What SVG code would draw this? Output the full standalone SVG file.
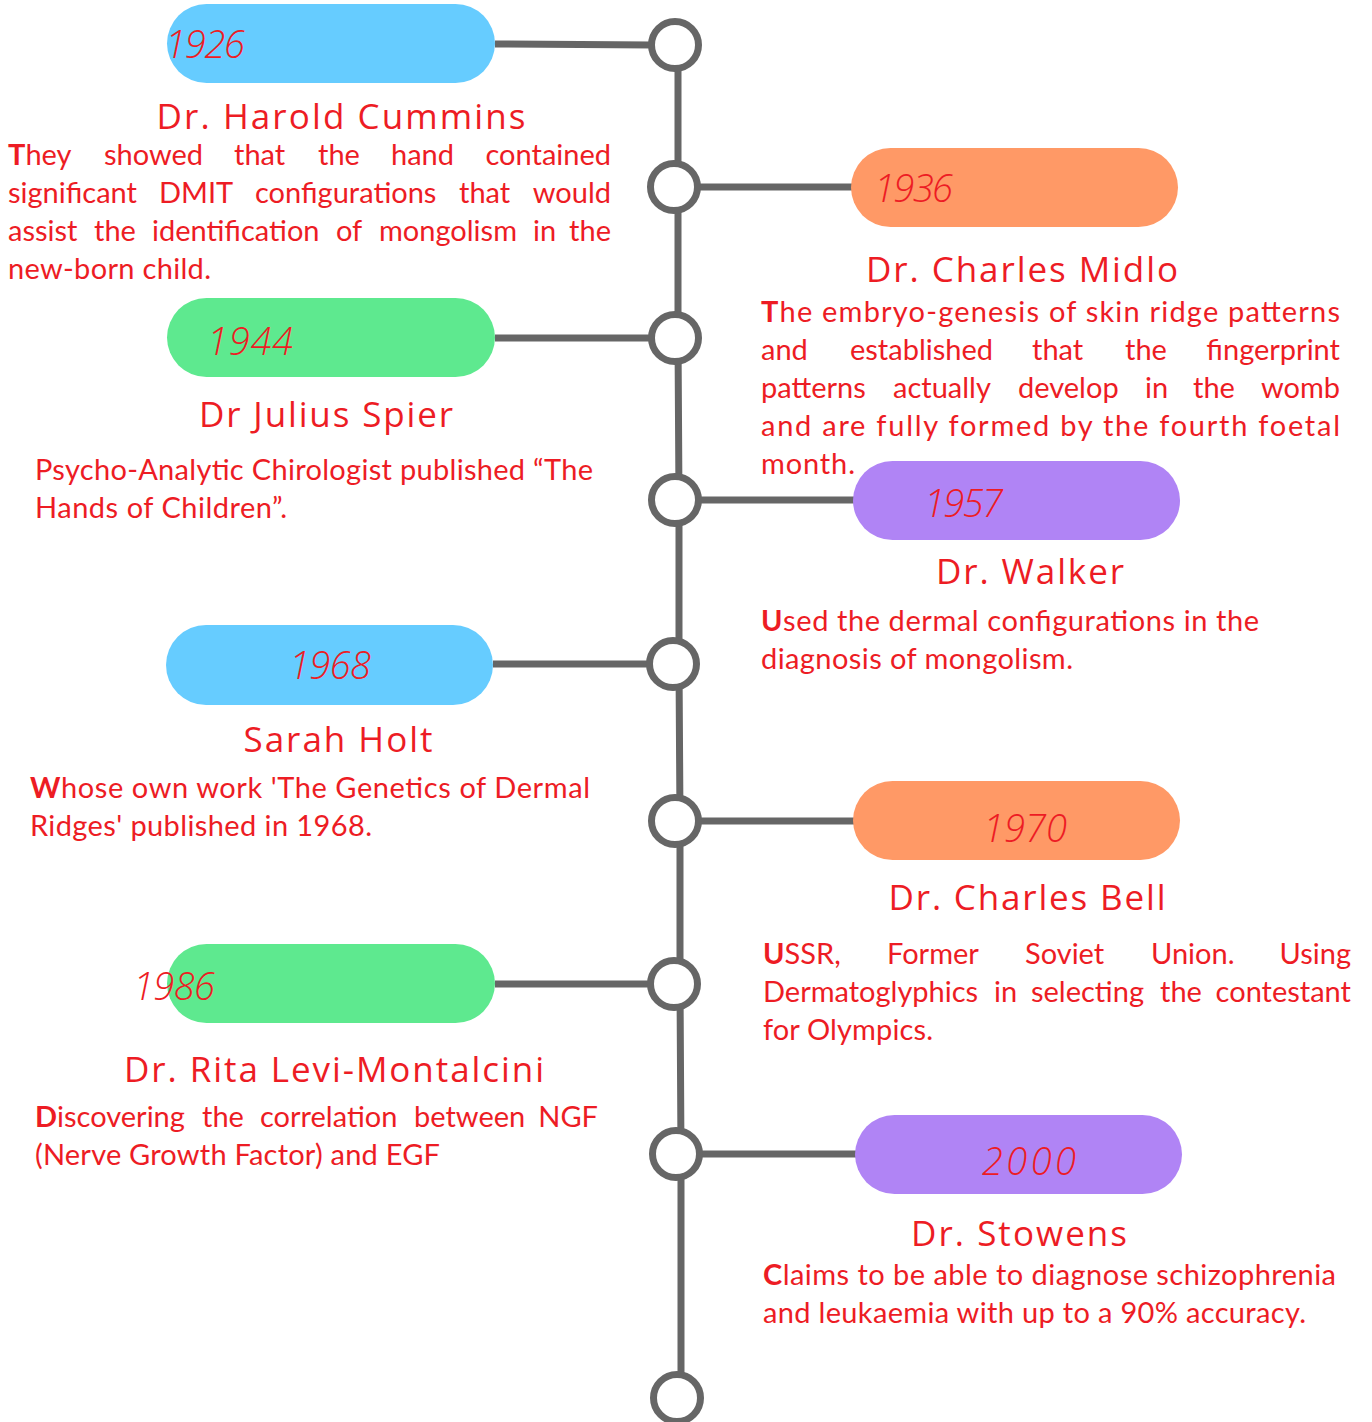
<svg xmlns="http://www.w3.org/2000/svg" width="1372" height="1422" viewBox="0 0 1372 1422">
<style>
.pill-blue{fill:#66CCFF}
.pill-orange{fill:#FF9966}
.pill-green{fill:#5EE98F}
.pill-purple{fill:#B084F5}
.line{stroke:#666666;stroke-width:7;fill:none}
.dot{fill:#FFFFFF;stroke:#666666;stroke-width:7}
.year{font-family:"Open Sans","Liberation Sans",sans-serif;font-style:italic;font-weight:300;font-size:38px;fill:#ED1C24}
.title{font-family:"Open Sans","Liberation Sans",sans-serif;font-size:35px;fill:#ED1C24;text-anchor:middle}
.body{font-family:Lato,"Liberation Sans",sans-serif;font-size:29px;fill:#ED1C24}
.b{font-weight:bold}
.e{text-anchor:end}
</style>
<rect width="1372" height="1422" fill="#FFFFFF"/>
<g id="connectors">
<polyline class="line" points="678,45 678,187 678,338 679,500 679,664 680,821 680,984 681,1154 681,1398"/>
<line class="line" x1="495" y1="44" x2="652" y2="45"/>
<line class="line" x1="698" y1="187" x2="852" y2="187"/>
<line class="line" x1="495" y1="338" x2="652" y2="338"/>
<line class="line" x1="698" y1="500" x2="854" y2="500"/>
<line class="line" x1="493" y1="664" x2="650" y2="664"/>
<line class="line" x1="698" y1="821" x2="854" y2="821"/>
<line class="line" x1="495" y1="984" x2="651" y2="984"/>
<line class="line" x1="699" y1="1154" x2="856" y2="1154"/>
</g>
<g id="dots">
<circle class="dot" cx="675" cy="45" r="23.5"/>
<circle class="dot" cx="674" cy="187" r="23.5"/>
<circle class="dot" cx="675" cy="338" r="23.5"/>
<circle class="dot" cx="675" cy="500" r="23.5"/>
<circle class="dot" cx="673" cy="664" r="23.5"/>
<circle class="dot" cx="675" cy="821" r="23.5"/>
<circle class="dot" cx="674" cy="984" r="23.5"/>
<circle class="dot" cx="676" cy="1154" r="23.5"/>
<circle class="dot" cx="677" cy="1398" r="23.5"/>
</g>
<g id="node-1926">
<rect class="pill-blue" x="167" y="4" width="328" height="79" rx="39.5"/>
<text class="year" x="165" y="58" textLength="80">1926</text>
<text class="title" x="341" y="129" textLength="369">Dr. Harold Cummins</text>
<text class="body" y="165"><tspan x="8"><tspan class="b">T</tspan>hey</tspan> <tspan x="104">showed</tspan> <tspan x="234">that</tspan> <tspan x="318">the</tspan> <tspan x="391">hand</tspan> <tspan class="e" x="611">contained</tspan></text>
<text class="body" y="203"><tspan x="8">significant</tspan> <tspan x="159">DMIT</tspan> <tspan x="255">configurations</tspan> <tspan x="459">that</tspan> <tspan class="e" x="611">would</tspan></text>
<text class="body" y="241"><tspan x="8">assist</tspan> <tspan x="94">the</tspan> <tspan x="152">identification</tspan> <tspan x="336">of</tspan> <tspan x="379">mongolism</tspan> <tspan x="533">in</tspan> <tspan class="e" x="611">the</tspan></text>
<text class="body" x="8" y="279" textLength="203">new-born child.</text>
</g>
<g id="node-1936">
<rect class="pill-orange" x="851" y="148" width="327" height="79" rx="39.5"/>
<text class="year" x="874" y="202" textLength="79">1936</text>
<text class="title" x="1022" y="282" textLength="312">Dr. Charles Midlo</text>
<text class="body" x="761" y="322" textLength="579"><tspan class="b">T</tspan>he embryo-genesis of skin ridge patterns</text>
<text class="body" y="360"><tspan x="761">and</tspan> <tspan x="850">established</tspan> <tspan x="1032">that</tspan> <tspan x="1125">the</tspan> <tspan class="e" x="1340">fingerprint</tspan></text>
<text class="body" y="398"><tspan x="761">patterns</tspan> <tspan x="893">actually</tspan> <tspan x="1018">develop</tspan> <tspan x="1145">in</tspan> <tspan x="1193">the</tspan> <tspan class="e" x="1340">womb</tspan></text>
<text class="body" x="761" y="436" textLength="579">and are fully formed by the fourth foetal</text>
<text class="body" x="761" y="474" textLength="94">month.</text>
</g>
<g id="node-1944">
<rect class="pill-green" x="167" y="298" width="328" height="79" rx="39.5"/>
<text class="year" x="207" y="355" textLength="86">1944</text>
<text class="title" x="326" y="427" textLength="254">Dr Julius Spier</text>
<text class="body" x="35" y="480" textLength="558">Psycho-Analytic Chirologist published “The</text>
<text class="body" x="35" y="518" textLength="252">Hands of Children”.</text>
</g>
<g id="node-1957">
<rect class="pill-purple" x="853" y="461" width="327" height="79" rx="39.5"/>
<text class="year" x="924" y="517" textLength="79">1957</text>
<text class="title" x="1030" y="584" textLength="188">Dr. Walker</text>
<text class="body" x="761" y="631" textLength="498"><tspan class="b">U</tspan>sed the dermal configurations in the</text>
<text class="body" x="761" y="669" textLength="312">diagnosis of mongolism.</text>
</g>
<g id="node-1968">
<rect class="pill-blue" x="166" y="625" width="327" height="80" rx="40"/>
<text class="year" x="289" y="679" textLength="82">1968</text>
<text class="title" x="338" y="752" textLength="189">Sarah Holt</text>
<text class="body" x="30" y="798" textLength="560"><tspan class="b">W</tspan>hose own work 'The Genetics of Dermal</text>
<text class="body" x="30" y="836" textLength="342">Ridges' published in 1968.</text>
</g>
<g id="node-1970">
<rect class="pill-orange" x="853" y="781" width="327" height="79" rx="39.5"/>
<text class="year" x="983" y="842" textLength="84">1970</text>
<text class="title" x="1027" y="910" textLength="277">Dr. Charles Bell</text>
<text class="body" y="964"><tspan x="763"><tspan class="b">U</tspan>SSR,</tspan> <tspan x="887">Former</tspan> <tspan x="1025">Soviet</tspan> <tspan x="1151">Union.</tspan> <tspan class="e" x="1351">Using</tspan></text>
<text class="body" y="1002"><tspan x="763">Dermatoglyphics</tspan> <tspan x="994">in</tspan> <tspan x="1031">selecting</tspan> <tspan x="1160">the</tspan> <tspan class="e" x="1351">contestant</tspan></text>
<text class="body" x="763" y="1040" textLength="170">for Olympics.</text>
</g>
<g id="node-1986">
<rect class="pill-green" x="167" y="944" width="328" height="79" rx="39.5"/>
<text class="year" x="133" y="1000" textLength="82">1986</text>
<text class="title" x="334" y="1082" textLength="420">Dr. Rita Levi-Montalcini</text>
<text class="body" y="1127"><tspan x="35"><tspan class="b">D</tspan>iscovering</tspan> <tspan x="202">the</tspan> <tspan x="260">correlation</tspan> <tspan x="414">between</tspan> <tspan class="e" x="598">NGF</tspan></text>
<text class="body" x="35" y="1165" textLength="405">(Nerve Growth Factor) and EGF</text>
</g>
<g id="node-2000">
<rect class="pill-purple" x="855" y="1115" width="327" height="79" rx="39.5"/>
<text class="year" x="982" y="1175" textLength="94">2000</text>
<text class="title" x="1019" y="1246" textLength="216">Dr. Stowens</text>
<text class="body" x="763" y="1285" textLength="573"><tspan class="b">C</tspan>laims to be able to diagnose schizophrenia</text>
<text class="body" x="763" y="1323" textLength="543">and leukaemia with up to a 90% accuracy.</text>
</g>
</svg>
